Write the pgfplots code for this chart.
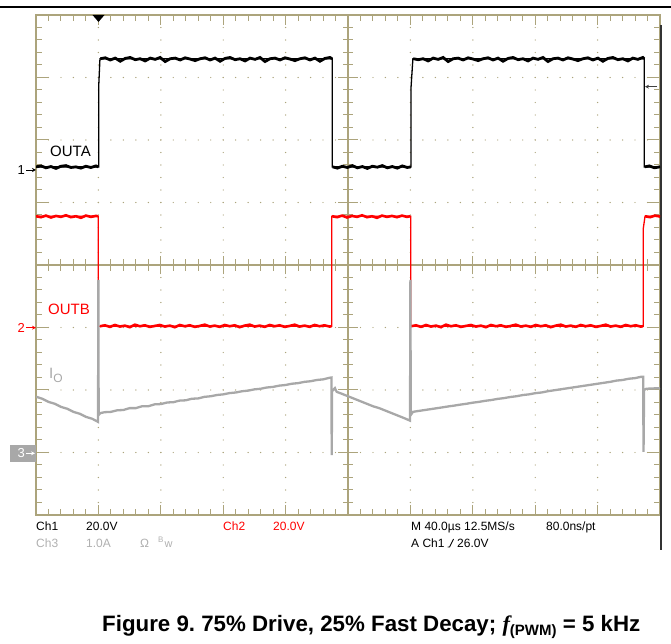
\documentclass[border=0pt]{standalone}
\usepackage{pgfplots}
\pgfplotsset{compat=1.18}
\usetikzlibrary{arrows.meta}
\usepackage{fontspec}
\setmainfont{Liberation Sans}
\newfontfamily\serifit{Liberation Serif}
\definecolor{grat}{RGB}{172,164,124}
\definecolor{iogray}{RGB}{168,168,168}
\definecolor{txtgray}{RGB}{176,176,176}
\definecolor{scred}{RGB}{255,0,0}
\begin{document}
\frenchspacing
\begin{tikzpicture}
\path[use as bounding box] (0bp,0bp) rectangle (671bp,644bp);
% top rule
\draw[black, line width=1.5bp] (0bp,637bp) -- (671bp,637bp);
% graticule
\begin{scope}[shift={(36bp,379bp)}, x=62.4bp, y=62.5bp]
  \foreach \i in {1,2,3,4,6,7,8,9}{\foreach \m in {1,...,39}{\fill[grat] (\i,-4+\m*0.2) circle[radius=0.7bp];}}
  \foreach \j in {-3,-2,-1,1,2,3}{\foreach \m in {1,...,49}{\fill[grat] (\m*0.2,\j) circle[radius=0.7bp];}}
  \draw[grat, line width=1.1bp] (5,-4)--(5,4) (0,0)--(10,0);
  \foreach \m in {1,...,49}{\draw[grat, line width=1bp] (\m*0.2,4)--(\m*0.2,3.91) (\m*0.2,-4)--(\m*0.2,-3.91) (\m*0.2,-0.096)--(\m*0.2,0.096);}
  \foreach \i in {1,...,9}{\draw[grat, line width=1bp] (\i,4)--(\i,3.84) (\i,-4)--(\i,-3.84) (\i,-0.15)--(\i,0.15);}
  \foreach \m in {1,...,39}{\draw[grat, line width=1bp] (0,-4+\m*0.2)--(0.09,-4+\m*0.2) (10,-4+\m*0.2)--(9.91,-4+\m*0.2) (4.92,-4+\m*0.2)--(5.08,-4+\m*0.2);}
  \foreach \j in {-3,...,3}{\draw[grat, line width=1bp] (0,\j)--(0.21,\j) (10,\j)--(9.79,\j) (4.84,\j)--(5.16,\j);}
  \draw[grat, line width=1.3bp] (0,-4) rectangle (10,4);
\end{scope}
% right dark line
\draw[black!80, line width=1.6bp] (661bp,619bp) -- (661bp,94bp);

\begin{axis}[at={(36bp,129bp)}, anchor=south west, x=62.4bp, y=62.5bp,
  xmin=0, xmax=10, ymin=-4, ymax=4, hide axis, clip=true, unbounded coords=jump]
% Ch1 OUTA (black)
\addplot[black, line width=1.3bp] coordinates {(0,1.57)(1.005,1.57)(1.005,2.86)(1.025,3.30)(4.748,3.30)(4.748,1.57)(6.01,1.57)(6.01,2.84)(6.04,3.30)(9.748,3.30)(9.748,1.57)(10,1.57)};
\addplot[black, line width=2.8bp] coordinates {
(0,1.57)(0.08,1.585)(0.16,1.555)(0.24,1.575)(0.32,1.545)(0.40,1.58)(0.48,1.59)(0.56,1.56)(0.64,1.57)(0.72,1.55)(0.80,1.58)(0.88,1.56)(0.96,1.585)(1.0,1.57)
(1.01,nan)
(1.03,3.30)(1.11,3.315)(1.19,3.28)(1.27,3.31)(1.35,3.26)(1.43,3.305)(1.51,3.32)(1.59,3.285)(1.67,3.30)(1.75,3.265)(1.83,3.31)(1.91,3.29)(1.99,3.32)(2.07,3.255)(2.15,3.30)(2.23,3.31)(2.31,3.28)(2.39,3.315)(2.47,3.295)(2.55,3.27)
(2.63,3.30)(2.71,3.315)(2.79,3.28)(2.87,3.31)(2.95,3.26)(3.03,3.305)(3.11,3.32)(3.19,3.285)(3.27,3.30)(3.35,3.265)(3.43,3.31)(3.51,3.29)(3.59,3.32)(3.67,3.255)(3.75,3.30)(3.83,3.31)(3.91,3.28)(3.99,3.315)(4.07,3.295)(4.15,3.27)
(4.23,3.30)(4.31,3.315)(4.39,3.28)(4.47,3.31)(4.55,3.26)(4.63,3.305)(4.71,3.32)(4.745,3.30)
(4.75,nan)
(4.755,1.57)(4.83,1.55)(4.91,1.58)(4.99,1.56)(5.07,1.59)(5.15,1.555)(5.23,1.575)(5.31,1.545)(5.39,1.58)(5.47,1.565)(5.55,1.59)(5.63,1.555)(5.71,1.575)(5.79,1.55)(5.87,1.585)(5.95,1.56)(6.005,1.57)
(6.02,nan)
(6.045,3.30)(6.125,3.285)(6.205,3.30)(6.285,3.265)(6.365,3.31)(6.445,3.29)(6.525,3.32)(6.605,3.255)(6.685,3.30)(6.765,3.31)(6.845,3.28)(6.925,3.315)(7.005,3.295)(7.085,3.27)(7.165,3.30)(7.245,3.315)(7.325,3.28)(7.405,3.31)(7.485,3.26)(7.565,3.305)
(7.645,3.32)(7.725,3.285)(7.805,3.30)(7.885,3.265)(7.965,3.31)(8.045,3.29)(8.125,3.32)(8.205,3.255)(8.285,3.30)(8.365,3.31)(8.445,3.28)(8.525,3.315)(8.605,3.295)(8.685,3.27)(8.765,3.30)(8.845,3.315)(8.925,3.28)(9.005,3.31)(9.085,3.26)(9.165,3.305)
(9.245,3.32)(9.325,3.285)(9.405,3.30)(9.485,3.265)(9.565,3.31)(9.645,3.29)(9.725,3.32)(9.745,3.30)
(9.75,nan)
(9.755,1.57)(9.83,1.585)(9.91,1.555)(10,1.57)};
% Ch2 OUTB (red)
\addplot[scred, line width=1.3bp] coordinates {(0,0.78)(0.998,0.78)(0.998,-0.98)(1.02,-0.98)(4.739,-0.98)(4.739,0.78)(6.005,0.78)(6.005,-0.98)(9.733,-0.98)(9.733,0.59)(9.76,0.78)(10,0.78)};
\addplot[scred, line width=2.6bp] coordinates {
(0,0.78)(0.08,0.765)(0.16,0.79)(0.24,0.76)(0.32,0.785)(0.40,0.77)(0.48,0.795)(0.56,0.765)(0.64,0.78)(0.72,0.755)(0.80,0.79)(0.88,0.77)(0.96,0.785)(0.995,0.78)
(1.0,nan)
(1.025,-0.98)(1.105,-0.965)(1.185,-0.99)(1.265,-0.96)(1.345,-0.985)(1.425,-0.97)(1.505,-0.995)(1.585,-0.955)(1.665,-0.98)(1.745,-0.965)(1.825,-0.99)(1.905,-0.975)(1.985,-0.96)(2.065,-0.985)(2.145,-0.97)(2.225,-0.995)(2.305,-0.96)(2.385,-0.98)(2.465,-0.965)(2.545,-0.99)
(2.625,-0.975)(2.705,-0.955)(2.785,-0.985)(2.865,-0.97)(2.945,-0.99)(3.025,-0.96)(3.105,-0.98)(3.185,-0.965)(3.265,-0.995)(3.345,-0.97)(3.425,-0.955)(3.505,-0.985)(3.585,-0.97)(3.665,-0.99)(3.745,-0.96)(3.825,-0.98)(3.905,-0.965)(3.985,-0.99)(4.065,-0.975)(4.145,-0.955)
(4.225,-0.985)(4.305,-0.97)(4.385,-0.99)(4.465,-0.96)(4.545,-0.98)(4.625,-0.965)(4.705,-0.985)(4.735,-0.98)
(4.74,nan)
(4.745,0.78)(4.825,0.765)(4.905,0.79)(4.985,0.76)(5.065,0.785)(5.145,0.77)(5.225,0.795)(5.305,0.765)(5.385,0.78)(5.465,0.755)(5.545,0.79)(5.625,0.77)(5.705,0.785)(5.785,0.765)(5.865,0.79)(5.945,0.77)(6.0,0.78)
(6.002,nan)
(6.01,-0.98)(6.09,-0.965)(6.17,-0.99)(6.25,-0.96)(6.33,-0.985)(6.41,-0.97)(6.49,-0.995)(6.57,-0.955)(6.65,-0.98)(6.73,-0.965)(6.81,-0.99)(6.89,-0.975)(6.97,-0.96)(7.05,-0.985)(7.13,-0.97)(7.21,-0.995)(7.29,-0.96)(7.37,-0.98)(7.45,-0.965)(7.53,-0.99)
(7.61,-0.975)(7.69,-0.955)(7.77,-0.985)(7.85,-0.97)(7.93,-0.99)(8.01,-0.96)(8.09,-0.98)(8.17,-0.965)(8.25,-0.995)(8.33,-0.97)(8.41,-0.955)(8.49,-0.985)(8.57,-0.97)(8.65,-0.99)(8.73,-0.96)(8.81,-0.98)(8.89,-0.965)(8.97,-0.99)(9.05,-0.975)(9.13,-0.955)
(9.21,-0.985)(9.29,-0.97)(9.37,-0.99)(9.45,-0.96)(9.53,-0.98)(9.61,-0.965)(9.69,-0.985)(9.728,-0.98)
(9.73,nan)
(9.76,0.78)(9.84,0.765)(9.92,0.79)(10,0.775)};
% Ch3 Io (gray)
\addplot[iogray, line width=2.3bp] coordinates {
(0,-2.107)(0.1,-2.14)(0.2,-2.19)(0.3,-2.22)(0.4,-2.27)(0.5,-2.30)(0.6,-2.35)(0.7,-2.38)(0.8,-2.43)(0.9,-2.46)(0.994,-2.51)(1.0,-0.24)(1.004,-2.40)(1.03,-2.37)
(1.1,-2.355)(1.2,-2.35)(1.3,-2.325)(1.4,-2.32)(1.5,-2.29)(1.6,-2.29)(1.7,-2.26)(1.8,-2.26)(1.9,-2.23)(2.0,-2.225)(2.1,-2.20)(2.2,-2.195)(2.3,-2.17)(2.4,-2.165)(2.5,-2.14)(2.6,-2.135)(2.7,-2.11)(2.8,-2.10)(2.9,-2.08)(3.0,-2.07)
(3.1,-2.05)(3.2,-2.04)(3.3,-2.02)(3.4,-2.01)(3.5,-1.99)(3.6,-1.98)(3.7,-1.96)(3.8,-1.95)(3.9,-1.93)(4.0,-1.92)(4.1,-1.90)(4.2,-1.89)(4.3,-1.87)(4.4,-1.86)(4.5,-1.84)(4.6,-1.83)(4.7,-1.805)(4.735,-1.80)(4.739,-3.04)(4.745,-2.02)(4.79,-1.97)(4.82,-2.03)
(4.9,-2.06)(5.0,-2.10)(5.1,-2.14)(5.2,-2.18)(5.3,-2.22)(5.4,-2.26)(5.5,-2.29)(5.6,-2.33)(5.7,-2.37)(5.8,-2.41)(5.9,-2.45)(5.994,-2.49)(6.0,-0.24)(6.006,-2.40)(6.04,-2.35)
(6.1,-2.34)(6.2,-2.325)(6.3,-2.31)(6.4,-2.295)(6.5,-2.28)(6.6,-2.264)(6.7,-2.25)(6.8,-2.234)(6.9,-2.22)(7.0,-2.203)(7.1,-2.19)(7.2,-2.173)(7.3,-2.16)(7.4,-2.142)(7.5,-2.13)(7.6,-2.112)(7.7,-2.10)(7.8,-2.081)(7.9,-2.07)(8.0,-2.051)
(8.1,-2.04)(8.2,-2.02)(8.3,-2.005)(8.4,-1.99)(8.5,-1.975)(8.6,-1.96)(8.7,-1.945)(8.8,-1.93)(8.9,-1.915)(9.0,-1.90)(9.1,-1.885)(9.2,-1.87)(9.3,-1.85)(9.4,-1.84)(9.5,-1.82)(9.6,-1.81)(9.69,-1.79)(9.73,-1.79)(9.736,-2.99)(9.745,-2.0)(9.78,-1.98)(10,-1.97)};
\end{axis}

% trigger markers
\fill[black] (92.5bp,629bp) -- (104.5bp,629bp) -- (98.5bp,622bp) -- cycle;
\draw[black!75, line width=1bp, -{Stealth[length=4bp,width=4bp]}] (657bp,557.3bp) -- (645bp,557.3bp);

% channel markers
\node[anchor=base east, inner sep=0, font=\fontsize{13bp}{15bp}\selectfont] at (25bp,469.5bp) {1};
\draw[black, line width=0.8bp, -{Stealth[length=4bp,width=4bp]}] (26bp,474bp) -- (36bp,474bp);
\node[anchor=base east, inner sep=0, text=scred, font=\fontsize{13bp}{15bp}\selectfont] at (25bp,311.8bp) {2};
\draw[scred, line width=0.8bp, -{Stealth[length=4bp,width=4bp]}] (26bp,316.3bp) -- (36bp,316.3bp);
\fill[iogray] (10bp,182.3bp) rectangle (36bp,199bp);
\node[anchor=base east, inner sep=0, text=white, font=\fontsize{13bp}{15bp}\selectfont] at (25bp,186.2bp) {3};
\draw[white, line width=0.8bp, -{Stealth[length=4bp,width=4bp]}] (26bp,190.7bp) -- (35bp,190.7bp);

% trace labels
\node[anchor=base west, inner sep=0, font=\fontsize{15bp}{18bp}\selectfont] at (50bp,487bp) {OUTA};
\node[anchor=base west, inner sep=0, text=scred, font=\fontsize{15bp}{18bp}\selectfont] at (48bp,329.5bp) {OUTB};
\node[anchor=base west, inner sep=0, text=iogray, font=\fontsize{15bp}{18bp}\selectfont] at (49bp,265.5bp) {I\raisebox{-4bp}{\fontsize{12bp}{14bp}\selectfont O}};

% bottom readouts
\begin{scope}[every node/.style={anchor=base west, inner sep=0, font=\fontsize{12bp}{14bp}\selectfont}]
\node at (36bp,113.3bp) {Ch1};
\node at (86bp,113.3bp) {20.0V};
\node[text=scred] at (223bp,113.3bp) {Ch2};
\node[text=scred] at (273bp,113.3bp) {20.0V};
\node at (411bp,113.3bp) {M 40.0µs 12.5MS/s};
\node at (546bp,113.3bp) {80.0ns/pt};
\node[text=txtgray] at (36bp,96.7bp) {Ch3};
\node[text=txtgray] at (86bp,96.7bp) {1.0A};
\node[text=txtgray] at (140bp,96.7bp) {Ω};
\node[text=txtgray, font=\fontsize{8bp}{9bp}\selectfont] at (158bp,101bp) {B};
\node[text=txtgray, font=\fontsize{11bp}{12bp}\selectfont] at (164.5bp,96.7bp) {w};
\node at (411bp,96.7bp) {A Ch1};
\node at (457bp,96.7bp) {26.0V};
\end{scope}
\draw[black, line width=0.9bp] (447.5bp,97bp) -- (449.5bp,97bp) -- (453.5bp,105bp);

% caption
\node[anchor=base west, inner sep=0] at (102bp,13bp) {\fontsize{22.3bp}{26bp}\selectfont\bfseries Figure 9. 75\% Drive, 25\% Fast Decay; {\serifit\bfseries\itshape f}\raisebox{-4bp}{\fontsize{15bp}{17bp}\selectfont (PWM)} = 5 kHz};
\end{tikzpicture}
\end{document}
